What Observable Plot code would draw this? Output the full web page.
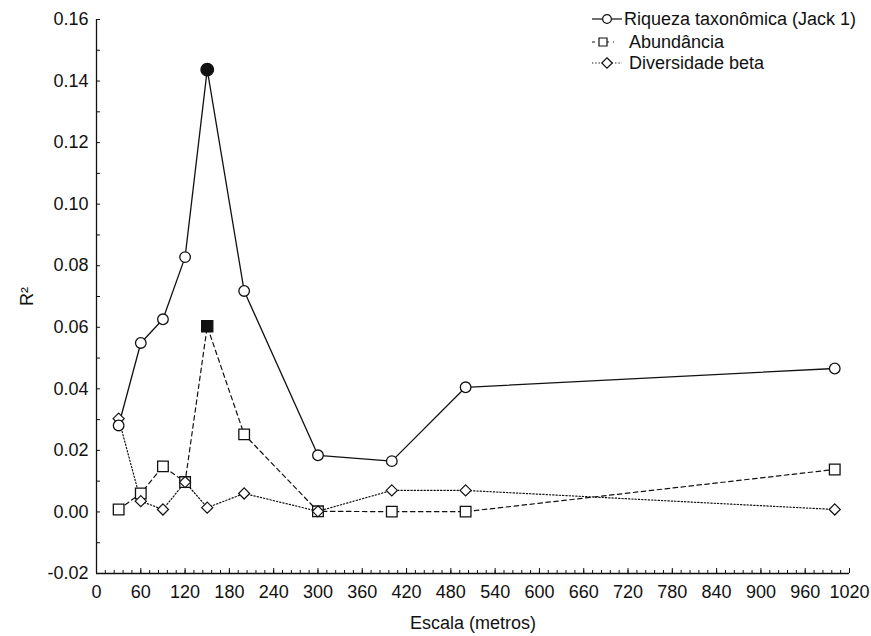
<!DOCTYPE html>
<html><head><meta charset="utf-8">
<script src="https://cdn.jsdelivr.net/npm/d3@7"></script>
<script src="https://cdn.jsdelivr.net/npm/@observablehq/plot@0.6"></script>
<style>
body{margin:0;background:#fff;}
#wrap{position:relative;width:871px;height:636px;font-family:"Liberation Sans",Arial,sans-serif;}
#legend{position:absolute;left:0;top:0;pointer-events:none;}
</style></head><body><div id="wrap"></div>
<script>
// Data
const escala = [30, 60, 90, 120, 150, 200, 300, 400, 500, 1000];
const riqueza = [0.0281, 0.0549, 0.0626, 0.0828, 0.1437, 0.0718, 0.0184, 0.0165, 0.0405, 0.0466];
const abundancia = [0.0008, 0.0060, 0.0148, 0.0097, 0.0603, 0.0252, 0.0002, 0.0001, 0.0001, 0.0138];
const diversidade = [0.0303, 0.0035, 0.0008, 0.0097, 0.0014, 0.0060, 0.0002, 0.0070, 0.0070, 0.0008];
const destaque = [150]; // filled markers (significant scale) for Riqueza and Abundância
const nomes = ["Riqueza taxonômica (Jack 1)", "Abundância", "Diversidade beta"];
const xTicks = [0, 60, 120, 180, 240, 300, 360, 420, 480, 540, 600, 660, 720, 780, 840, 900, 960, 1020];
const xMinor = d3.range(0, 1021, 12);
const yTicks = [-0.02, 0.00, 0.02, 0.04, 0.06, 0.08, 0.10, 0.12, 0.14, 0.16];
const yMinor = [-0.01, 0.01, 0.03, 0.05, 0.07, 0.09, 0.11, 0.13, 0.15];
const xDomain = [0, 1020];
const yDomain = [-0.02, 0.16];

const rows = (vals) => escala.map((x, i) => ({x, y: vals[i], filled: destaque.includes(x)}));
const rR = rows(riqueza), rA = rows(abundancia), rD = rows(diversidade);
const ink = "#111";

const chart = Plot.plot({
  width: 871, height: 636,
  marginLeft: 96, marginRight: 22, marginTop: 19, marginBottom: 63,
  style: {fontFamily: '"Liberation Sans", Arial, sans-serif', fontSize: "18px", color: ink, background: "#fff", overflow: "visible"},
  x: {domain: xDomain},
  y: {domain: yDomain},
  marks: [
    Plot.ruleX([xDomain[0]], {y1: yDomain[0], y2: yDomain[1], stroke: ink, strokeWidth: 1.3}),
    Plot.ruleY([yDomain[0]], {x1: xDomain[0], x2: xDomain[1], stroke: ink, strokeWidth: 1.3}),
    Plot.axisX({ticks: xMinor, tickSize: -3, tickFormat: () => "", label: null, stroke: ink}),
    Plot.axisX({ticks: xTicks, tickSize: -5, tickPadding: 17, tickFormat: d => String(d), label: "Escala (metros)", labelAnchor: "center", labelArrow: "none", labelOffset: 55, stroke: ink, fill: ink}),
    Plot.axisY({ticks: yMinor, tickSize: -4, tickFormat: () => "", label: null, stroke: ink}),
    Plot.axisY({ticks: yTicks, tickSize: -4, tickPadding: 12, tickFormat: d => d.toFixed(2), label: "R²", labelAnchor: "center", labelArrow: "none", labelOffset: 76, stroke: ink, fill: ink}),
    Plot.line(rA, {x: "x", y: "y", stroke: ink, strokeWidth: 1.2, strokeDasharray: "4.5,3.5"}),
    Plot.line(rR, {x: "x", y: "y", stroke: ink, strokeWidth: 1.3}),
    Plot.line(rD, {x: "x", y: "y", stroke: ink, strokeWidth: 1.2, strokeDasharray: "1.3,2"}),
    Plot.dot(rA.filter(d => !d.filled), {x: "x", y: "y", symbol: "square", r: 6, fill: "#fff", stroke: ink, strokeWidth: 1.3}),
    Plot.dot(rA.filter(d => d.filled), {x: "x", y: "y", symbol: "square", r: 6.3, fill: ink, stroke: ink, strokeWidth: 1.3}),
    Plot.dot(rD, {x: "x", y: "y", symbol: "diamond2", r: 5, fill: "#fff", stroke: ink, strokeWidth: 1.2}),
    Plot.dot(rR.filter(d => !d.filled), {x: "x", y: "y", symbol: "circle", r: 5.3, fill: "#fff", stroke: ink, strokeWidth: 1.3}),
    Plot.dot(rR.filter(d => d.filled), {x: "x", y: "y", symbol: "circle", r: 6.3, fill: ink, stroke: ink, strokeWidth: 1.3})
  ]
});
document.getElementById("wrap").appendChild(chart);

// Legend (top right)
const lg = d3.select("#wrap").append("svg").attr("id", "legend").attr("width", 871).attr("height", 80);
const items = [
  {name: nomes[0], y: 19, x1: 592, x2: 622, mx: 607, tx: 624, dash: null, sym: d3.symbolCircle, size: 60},
  {name: nomes[1], y: 42, x1: 592, x2: 614, mx: 603, tx: 629, dash: "3,4", sym: d3.symbolSquare, size: 64},
  {name: nomes[2], y: 63, x1: 592, x2: 622, mx: 607, tx: 629, dash: "1.3,2", sym: d3.symbolDiamond2, size: 70}
];
items.forEach(it => {
  lg.append("line").attr("x1", it.x1).attr("x2", it.x2).attr("y1", it.y).attr("y2", it.y)
    .attr("stroke", ink).attr("stroke-width", 1.2).attr("stroke-dasharray", it.dash);
  lg.append("path").attr("d", d3.symbol(it.sym, it.size)()).attr("transform", `translate(${it.mx},${it.y})`)
    .attr("fill", "#fff").attr("stroke", ink).attr("stroke-width", 1.2);
  lg.append("text").attr("x", it.tx).attr("y", it.y).attr("dy", "0.35em").attr("fill", ink)
    .style("font-size", "18px").style("font-family", '"Liberation Sans", Arial, sans-serif').text(it.name);
});
</script></body></html>
